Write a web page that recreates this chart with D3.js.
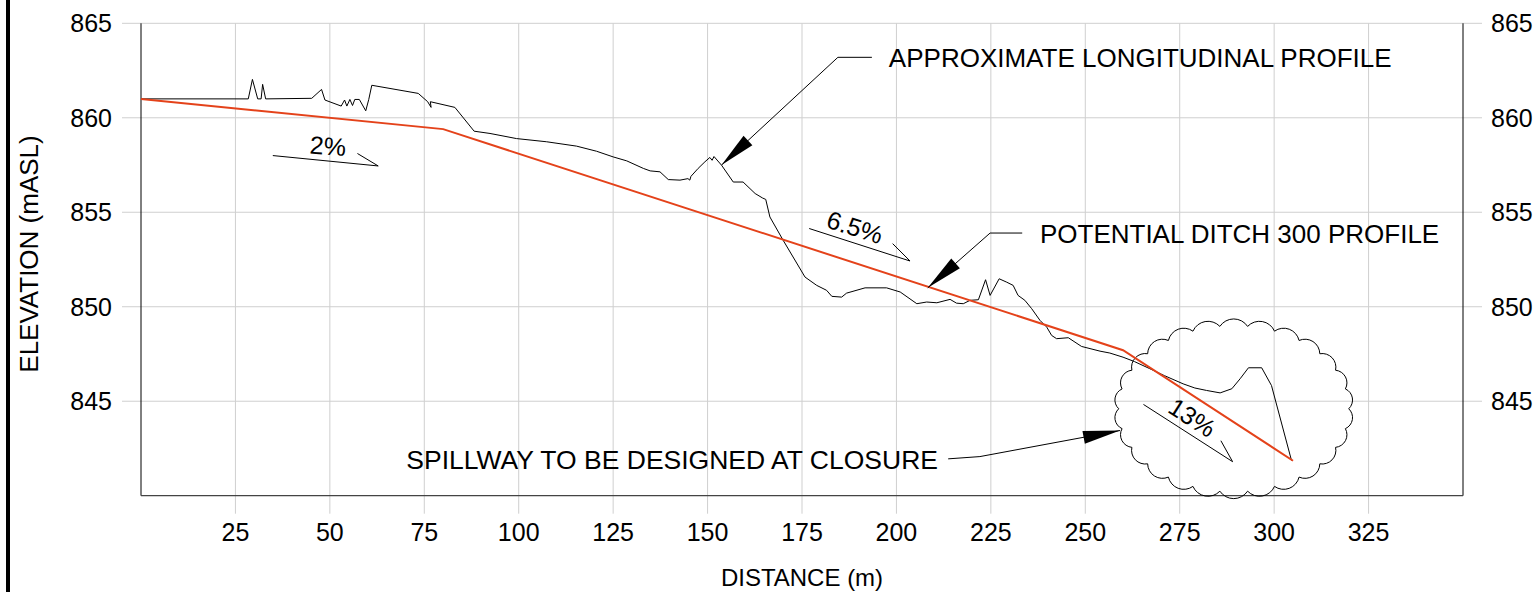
<!DOCTYPE html>
<html>
<head>
<meta charset="utf-8">
<script src="https://cdn.jsdelivr.net/npm/d3@7"></script>
<style>
  html, body { margin: 0; padding: 0; background: #fff; }
  svg { display: block; font-family: "Liberation Sans", Arial, sans-serif; }
  .grid line { stroke: #cfcfcf; stroke-width: 1; }
  .lbl { font-size: 25px; fill: #000; }
</style>
</head>
<body>
<svg id="chart" width="1538" height="592"></svg>
<script>
// chart values
var xTicks = [25, 50, 75, 100, 125, 150, 175, 200, 225, 250, 275, 300, 325];
var yTicks = [845, 850, 855, 860, 865];

// approximate longitudinal profile (distance m, elevation mASL)
var profileDist = [0, 28.4, 29.5, 30.9, 31.8, 32.2, 33.0, 45.2, 47.8, 48.7, 53.0, 53.9, 54.5, 55.3, 56.0, 56.6,
  57.8, 59.5, 60.3, 61.1, 73.4, 75.9, 76.8, 76.6, 83.1, 88.2, 92.4, 99.4, 107.4, 115.3, 120.6, 125.0,
  128.6, 133.0, 134.8, 137.4, 139.6, 142.7, 144.8, 145.3, 145.6, 147.5, 149.3, 150.6, 151.2, 151.7,
  153.7, 156.8, 159.4, 162.6, 164.6, 165.4, 166.5, 170.0, 175.8, 178.9, 181.5, 182.9, 185.5, 186.8,
  191.7, 197.4, 201.0, 205.4, 208.0, 210.7, 214.2, 215.9, 217.7, 219.5, 221.7, 223.6, 224.8, 227.2,
  229.2, 230.9, 232.2, 234.0, 235.8, 238.0, 239.8, 241.1, 242.4, 245.5, 249.0, 253.9, 256.5, 260.0,
  263.0, 267.1, 271.0, 275.9, 279.0, 282.1, 285.7, 288.8, 291.0, 293.2, 296.7, 299.3, 304.6];
var profileElev = [861.0, 861.0, 862.03, 861.0, 861.0, 861.77, 861.0, 861.03, 861.5, 860.94, 860.62, 860.94, 860.62, 860.97, 860.65, 860.97,
  860.97, 860.37, 860.97, 861.72, 861.29, 860.85, 860.55, 860.85, 860.55, 859.29, 859.17, 858.9, 858.73, 858.5, 858.23, 857.93,
  857.72, 857.32, 857.19, 857.14, 856.73, 856.7, 856.78, 856.7, 856.9, 857.32, 857.67, 857.9, 857.75, 857.95,
  857.49, 856.6, 856.6, 855.99, 855.75, 855.68, 854.75, 853.52, 851.57, 851.13, 850.87, 850.55, 850.51, 850.72,
  851.0, 851.0, 850.78, 850.16, 850.25, 850.21, 850.39, 850.19, 850.16, 850.34, 850.37, 851.43, 850.6, 851.48,
  851.3, 851.13, 850.6, 850.34, 849.9, 849.28, 848.92, 848.48, 848.31, 848.36, 847.9, 847.65, 847.55, 847.33,
  847.1, 846.72, 846.35, 845.92, 845.7, 845.57, 845.44, 845.66, 846.19, 846.77, 846.77, 845.83, 841.86];

// potential ditch 300 profile
var ditchDist = [0, 80, 260, 305];
var ditchElev = [861.0, 859.4, 847.7, 841.85];

var W = 1538, H = 592;
var m = {left: 141, right: 1463, top: 23.3, bottom: 495.7};

var svg = d3.select("#chart");

var x = d3.scaleLinear().domain([0, 350]).range([m.left, m.right]),
    y = d3.scaleLinear().domain([840, 865]).range([m.bottom, m.top]);

// left page border
svg.append("line")
    .attr("x1", 8).attr("x2", 8).attr("y1", 0).attr("y2", H)
    .attr("stroke", "#000").attr("stroke-width", 4);

// grid
var grid = svg.append("g").attr("class", "grid");
grid.selectAll(".vx").data(xTicks).enter().append("line")
    .attr("x1", d => x(d)).attr("x2", d => x(d))
    .attr("y1", y(865)).attr("y2", m.bottom + 18);
grid.selectAll(".hy").data(yTicks).enter().append("line")
    .attr("x1", m.left - 19).attr("x2", m.right + 19)
    .attr("y1", d => y(d)).attr("y2", d => y(d));

// axes frame
svg.append("line").attr("x1", m.left).attr("x2", m.left).attr("y1", y(865)).attr("y2", m.bottom)
    .attr("stroke", "#000").attr("stroke-width", 1);
svg.append("line").attr("x1", m.right).attr("x2", m.right).attr("y1", y(865)).attr("y2", m.bottom)
    .attr("stroke", "#000").attr("stroke-width", 1);
svg.append("line").attr("x1", m.left).attr("x2", m.right).attr("y1", m.bottom).attr("y2", m.bottom)
    .attr("stroke", "#444").attr("stroke-width", 1.2);

// tick labels
svg.selectAll(".xl").data(xTicks).enter().append("text")
    .attr("class", "lbl")
    .attr("x", d => x(d)).attr("y", 541)
    .attr("text-anchor", "middle")
    .text(d => d);
svg.selectAll(".yl").data(yTicks).enter().append("text")
    .attr("class", "lbl")
    .attr("x", 112).attr("y", d => y(d) + 9)
    .attr("text-anchor", "end")
    .text(d => d);
svg.selectAll(".yr").data(yTicks).enter().append("text")
    .attr("class", "lbl")
    .attr("x", 1491).attr("y", d => y(d) + 9)
    .text(d => d);

// axis titles
svg.append("text").attr("class", "lbl").style("font-size", "24px")
    .attr("x", 802).attr("y", 586).attr("text-anchor", "middle")
    .text("DISTANCE (m)");
svg.append("text").attr("class", "lbl").style("font-size", "26px")
    .attr("transform", "translate(38,254) rotate(-90)")
    .attr("text-anchor", "middle")
    .text("ELEVATION (mASL)");

var line = d3.line()
    .x(function (d) { return x(d[0]); })
    .y(function (d) { return y(d[1]); });

// revision cloud round the spillway
function cloud(cx, cy, rx, ry, n) {
    var pts = d3.range(n + 1).map(function (i) {
        var a = i / n * 2 * Math.PI;
        return [cx + rx * Math.cos(a), cy + ry * Math.sin(a)];
    });
    var p = "M" + pts[0][0] + "," + pts[0][1];
    for (var i = 1; i < pts.length; i++) {
        var dx = pts[i][0] - pts[i-1][0], dy = pts[i][1] - pts[i-1][1];
        var r = Math.sqrt(dx*dx + dy*dy) * 0.6;
        p += "A" + r + "," + r + " 0 0 1 " + pts[i][0] + "," + pts[i][1];
    }
    return p;
}
svg.append("path")
    .attr("d", cloud(x(289.3), y(844.6), 115, 83, 26))
    .attr("fill", "none").attr("stroke", "#000").attr("stroke-width", 1);

// ground profile
svg.append("path")
    .attr("d", line(d3.zip(profileDist, profileElev)))
    .attr("fill", "none").attr("stroke", "#000").attr("stroke-width", 1);

// ditch profile
svg.append("path")
    .attr("d", line(d3.zip(ditchDist, ditchElev)))
    .attr("fill", "none").attr("stroke", "#e4421a").attr("stroke-width", 2);

// leader with filled arrowhead
function leader(pts, len, half) {
    var g = svg.append("g");
    var px = pts.map(p => [x(p[0]), y(p[1])]);
    g.append("path")
        .attr("d", d3.line()(px))
        .attr("fill", "none").attr("stroke", "#000").attr("stroke-width", 1);
    var tip = px[px.length - 1], from = px[px.length - 2];
    var dx = from[0] - tip[0], dy = from[1] - tip[1], L = Math.sqrt(dx*dx + dy*dy);
    dx /= L; dy /= L;
    var bx = tip[0] + dx * len, by = tip[1] + dy * len;
    g.append("path")
        .attr("d", "M" + tip + "L" + [bx - dy * half, by + dx * half] + "L" + [bx + dy * half, by - dx * half] + "Z")
        .attr("fill", "#000");
}
leader([[193.5, 863.2], [184.5, 863.2], [153.7, 857.5]], 36, 6.5);
leader([[233.3, 853.9], [224.8, 853.9], [208.3, 851.0]], 37, 6.5);
leader([[213.7, 841.95], [222.1, 842.07], [259.2, 843.45]], 37, 6.5);

svg.append("text").attr("class", "lbl").style("font-size", "26px")
    .attr("x", x(198)).attr("y", y(863.2) + 10)
    .text("APPROXIMATE LONGITUDINAL PROFILE");
svg.append("text").attr("class", "lbl").style("font-size", "26px")
    .attr("x", x(238)).attr("y", y(853.9) + 10)
    .text("POTENTIAL DITCH 300 PROFILE");
svg.append("text").attr("class", "lbl").style("font-size", "26.5px")
    .attr("x", x(211)).attr("y", y(841.95) + 10)
    .attr("text-anchor", "end")
    .text("SPILLWAY TO BE DESIGNED AT CLOSURE");

// slope markers: [start dist, start elev, end dist, end elev, barb dist, barb elev, label dist, label elev, angle, text]
var slopes = [
    [34.9, 858.0, 62.8, 857.45, 57.3, 858.11, 49.5, 858.5, 4, "2%"],
    [176.9, 854.14, 203.6, 852.42, 199.0, 853.34, 189.0, 854.2, 17.8, "6.5%"],
    [265.4, 844.83, 289.0, 841.8, 285.9, 842.91, 278.3, 844.13, 32.5, "13%"]
];
slopes.forEach(function (s) {
    svg.append("path")
        .attr("d", "M" + [x(s[0]), y(s[1])] + "L" + [x(s[2]), y(s[3])] + "L" + [x(s[4]), y(s[5])])
        .attr("fill", "none").attr("stroke", "#000").attr("stroke-width", 1);
    svg.append("text").attr("class", "lbl")
        .attr("transform", "translate(" + x(s[6]) + "," + y(s[7]) + ") rotate(" + s[8] + ")")
        .attr("text-anchor", "middle").attr("dy", "0.35em")
        .text(s[9]);
});
</script>
</body>
</html>
